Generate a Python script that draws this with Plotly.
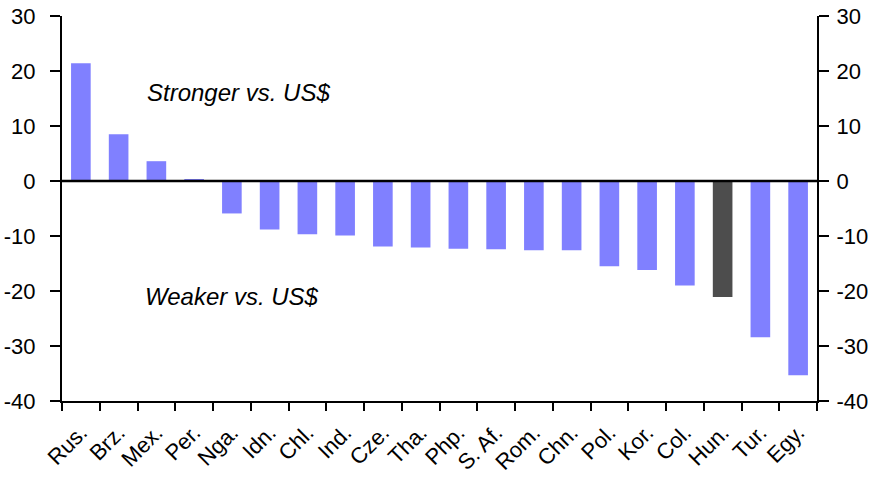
import plotly.graph_objects as go

categories = ["Rus.", "Brz.", "Mex.", "Per.", "Nga.", "Idn.", "Chl.", "Ind.", "Cze.", "Tha.",
              "Php.", "S. Af.", "Rom.", "Chn.", "Pol.", "Kor.", "Col.", "Hun.", "Tur.", "Egy."]
values = [21.4, 8.5, 3.6, 0.3, -5.9, -8.8, -9.7, -9.9, -11.9, -12.1,
          -12.3, -12.4, -12.6, -12.6, -15.5, -16.2, -19.0, -21.1, -28.4, -35.3]
highlight = "Hun."
y_ticks = [30, 20, 10, 0, -10, -20, -30, -40]
y_tick_labels = ["30", "20", "10", "0", "-10", "-20", "-30", "-40"]

colors = ["#4D4D4D" if c == highlight else "#8080FF" for c in categories]

font = "Liberation Sans, Arial, sans-serif"

fig = go.Figure()
fig.add_trace(go.Bar(x=categories, y=values, marker=dict(color=colors, line=dict(width=0)),
                     width=0.52, showlegend=False, hoverinfo="x+y"))
fig.add_trace(go.Scatter(x=categories, y=values, yaxis="y2", mode="markers",
                         marker=dict(opacity=0), showlegend=False, hoverinfo="skip"))

yax = dict(range=[-40, 30], tickvals=y_ticks, ticktext=y_tick_labels,
           ticks="outside", ticklen=10, tickwidth=2,
           tickcolor="black", showline=True, linecolor="black", linewidth=2,
           showgrid=False, zeroline=False, automargin=False,
           tickfont=dict(family=font, size=22, color="black"))

fig.update_layout(
    width=875, height=488,
    margin=dict(l=62, r=58, t=16, b=87),
    paper_bgcolor="white", plot_bgcolor="white",
    xaxis=dict(type="category", range=[-0.5, len(categories) - 0.5], tickson="boundaries",
               ticks="outside", ticklen=8, tickwidth=2,
               tickcolor="black", showline=True, linecolor="black", linewidth=2,
               showgrid=False, tickangle=-45, automargin=False, ticklabelstandoff=8,
               tickfont=dict(family=font, size=22, color="black")),
    yaxis=dict(yax, ticklabelstandoff=10),
    yaxis2=dict(yax, overlaying="y", side="right", ticklabelstandoff=3),
    shapes=[dict(type="line", xref="paper", x0=0, x1=1, yref="y", y0=0, y1=0,
                 line=dict(color="black", width=2.5))],
    annotations=[
        dict(text="<i>Stronger vs. US$</i>", xref="paper", yref="y", x=0.234, y=16.1,
             xanchor="center", showarrow=False, font=dict(family=font, size=24, color="black")),
        dict(text="<i>Weaker vs. US$</i>", xref="paper", yref="y", x=0.225, y=-21.0,
             xanchor="center", showarrow=False, font=dict(family=font, size=24, color="black")),
    ],
)

fig.write_html("out.html", config={"displayModeBar": False},
               post_script="document.body.style.margin='0';")
